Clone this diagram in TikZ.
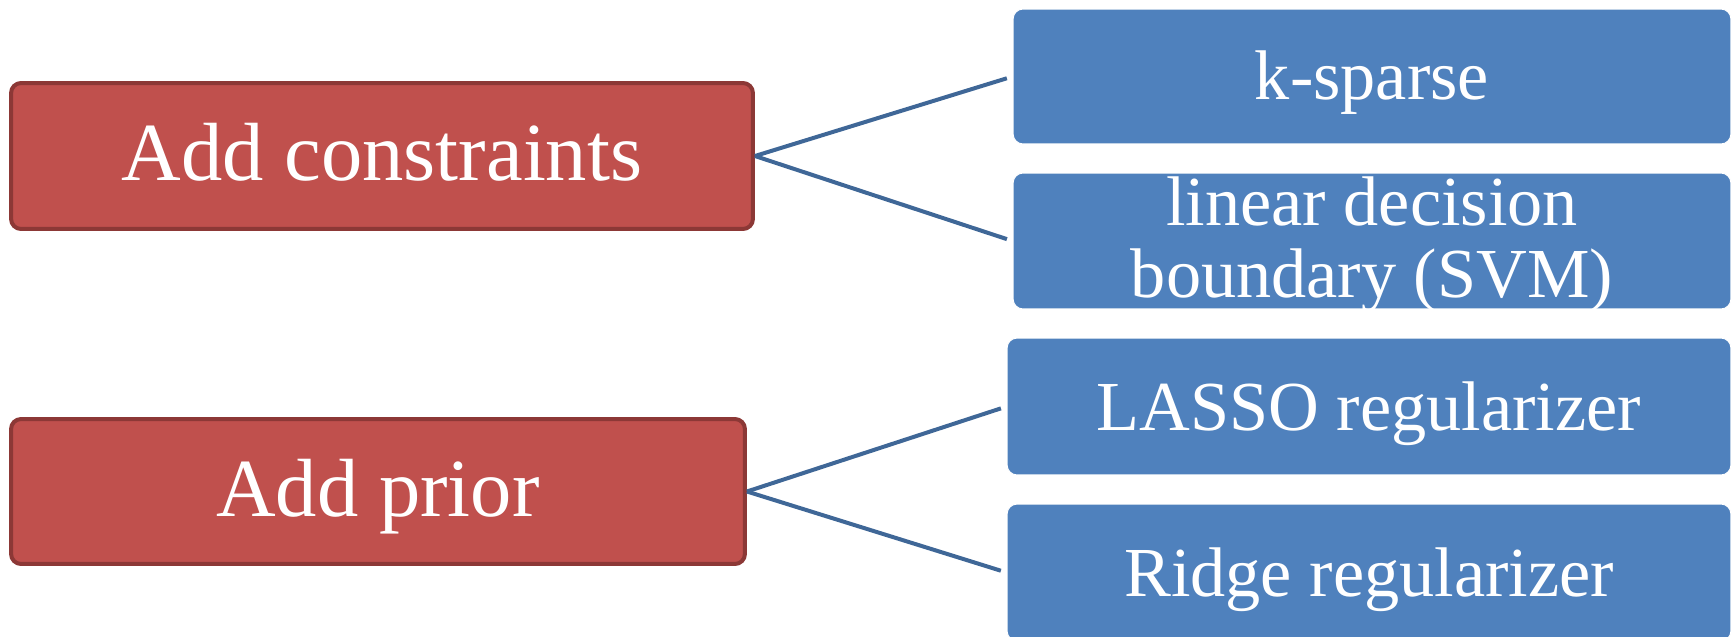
\documentclass[tikz,border=0pt]{standalone}
\usepackage{fontspec}
\setmainfont{Liberation Serif}
\usepackage{tikz}
\usetikzlibrary{positioning}

\definecolor{redfill}{HTML}{C0504D}
\definecolor{redline}{HTML}{8C3836}
\definecolor{bluefill}{HTML}{4F81BD}
\definecolor{bluelink}{HTML}{3F6797}

\tikzset{
  cond/.style={rectangle, rounded corners=0.2cm, draw=redline, line width=0.08cm,
    fill=redfill, text=white, inner sep=0pt, font=\fontsize{47}{50}\selectfont,
    text height=0.98cm, text depth=0pt},
  leaf/.style={rectangle, rounded corners=0.2cm, draw=white, line width=0.02cm,
    fill=bluefill, text=white, inner sep=0pt, align=center,
    font=\fontsize{40}{41}\selectfont},
  oneline/.style={text height=0.94cm, text depth=0pt},
  twoline/.style={text height=2.28cm, text depth=0pt},
  link/.style={draw=bluelink, line width=0.08cm, shorten >=0.12cm}
}

\begin{document}
\begin{tikzpicture}[x=0.02cm, y=-0.02cm]
  \useasboundingbox (0,0) rectangle (1733,636);
  \clip (0,0) rectangle (1733,636);

  \node (con) [cond, minimum width=14.84cm, minimum height=2.92cm] at (382,156) {Add constraints};
  \node (pri) [cond, minimum width=14.68cm, minimum height=2.9cm] at (378,491.5) {Add prior};

  \node (ksp) [leaf, oneline, minimum width=14.36cm, minimum height=2.7cm] at (1372,76.5) {k-sparse};
  \node (svm) [leaf, twoline, minimum width=14.36cm, minimum height=2.72cm] at (1372,241) {linear decision\\boundary (SVM)};
  \node (las) [leaf, oneline, minimum width=14.48cm, minimum height=2.74cm] at (1369,406.5) {LASSO regularizer};
  \node (rid) [leaf, oneline, minimum width=14.48cm, minimum height=2.74cm] at (1369,572.5) {Ridge regularizer};

  \draw[link] (con.east) to (ksp.west);
  \draw[link] (con.east) to (svm.west);
  \draw[link] (pri.east) to (las.west);
  \draw[link] (pri.east) to (rid.west);
\end{tikzpicture}
\end{document}
